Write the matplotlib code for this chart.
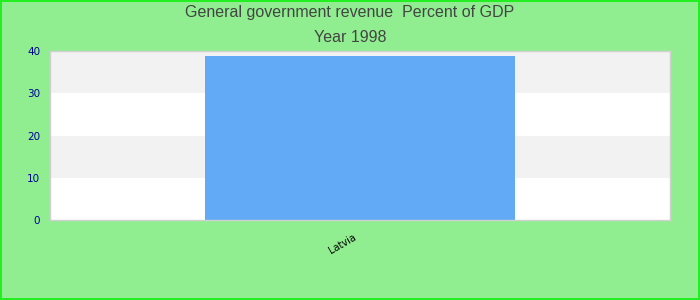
import matplotlib
matplotlib.use("Agg")
import matplotlib.pyplot as plt
from matplotlib.transforms import ScaledTranslation

categories = ["Latvia"]
values = [38.9]
yticks = [0, 10, 20, 30, 40]

fig = plt.figure(figsize=(7, 3), dpi=100, facecolor="#90EE90")
ax = fig.add_axes([50/700, 80/300, 620/700, 169/300])
ax.set_facecolor("white")

# alternating bands
for i in range(len(yticks) - 1):
    if i % 2 == 1:
        ax.axhspan(yticks[i], yticks[i + 1], color="#f2f2f2", zorder=0, lw=0)

x = list(range(len(categories)))
ax.bar(x, values, width=0.5, color="#62A9F6", zorder=2)
ax.set_xlim(-0.5, 0.5)
ax.set_ylim(0, 40)
ax.set_yticks(yticks)
ax.set_yticklabels([str(t) for t in yticks], color="#000099", fontsize=7.5, family="DejaVu Sans")
ax.set_xticks(x)
ax.set_xticklabels(categories, rotation=30, ha="right", rotation_mode="anchor", fontsize=7, family="DejaVu Sans")
ax.tick_params(axis="y", length=0, pad=7)
ax.tick_params(axis="x", length=0, pad=6)
for lab in ax.get_xticklabels():
    lab.set_transform(lab.get_transform() + ScaledTranslation(-7/100, -4/100, fig.dpi_scale_trans))
for s in ax.spines.values():
    s.set_color("#d0d0d0")
    s.set_linewidth(1)

fig.text(0.5, 1 - 12.5/300, "General government revenue  Percent of GDP", ha="center", va="center",
         fontsize=11.5, color="#444444", family="Liberation Sans")
fig.text(0.5, 1 - 37/300, "Year 1998", ha="center", va="center",
         fontsize=11.5, color="#444444", family="Liberation Sans")

border = plt.Rectangle((1/700, 1/300), 1 - 2/700, 1 - 2/300, transform=fig.transFigure,
                       fill=False, edgecolor="#22ee22", lw=1.44)
fig.patches.append(border)

fig.savefig("out.png", dpi=100, facecolor=fig.get_facecolor())
